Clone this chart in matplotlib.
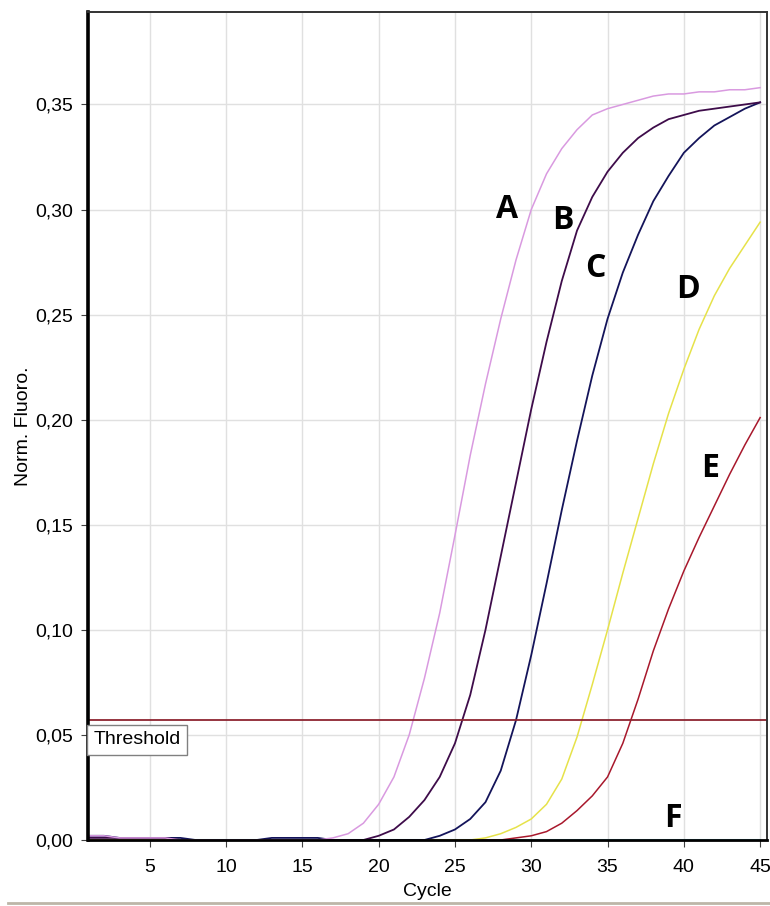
import matplotlib.pyplot as plt
from matplotlib.lines import Line2D

cycles = list(range(1, 46))

# normalized fluorescence per cycle
curve_a = [0.002, 0.002, 0.001, 0.001, 0.001, 0.001, 0.000, 0.000, 0.000, 0.000,
           0.000, 0.000, 0.000, 0.000, 0.000, 0.000, 0.001, 0.003, 0.008, 0.017,
           0.030, 0.050, 0.077, 0.108, 0.145, 0.183, 0.217, 0.248, 0.276, 0.300,
           0.317, 0.329, 0.338, 0.345, 0.348, 0.350, 0.352, 0.354, 0.355, 0.355,
           0.356, 0.356, 0.357, 0.357, 0.358]
curve_b = [0.001, 0.001, 0.001, 0.001, 0.001, 0.001, 0.000, 0.000, 0.000, 0.000,
           0.000, 0.000, 0.000, 0.000, 0.000, 0.000, 0.000, 0.000, 0.000, 0.002,
           0.005, 0.011, 0.019, 0.030, 0.046, 0.069, 0.100, 0.135, 0.170, 0.205,
           0.237, 0.266, 0.290, 0.306, 0.318, 0.327, 0.334, 0.339, 0.343, 0.345,
           0.347, 0.348, 0.349, 0.350, 0.351]
curve_c = [0.002, 0.002, 0.001, 0.001, 0.001, 0.001, 0.001, 0.000, 0.000, 0.000,
           0.000, 0.000, 0.001, 0.001, 0.001, 0.001, 0.000, 0.000, 0.000, 0.000,
           0.000, 0.000, 0.000, 0.002, 0.005, 0.010, 0.018, 0.033, 0.057, 0.088,
           0.122, 0.157, 0.190, 0.221, 0.248, 0.270, 0.288, 0.304, 0.316, 0.327,
           0.334, 0.340, 0.344, 0.348, 0.351]
curve_d = [0.000, 0.000, 0.000, 0.000, 0.000, 0.000, 0.000, 0.000, 0.000, 0.000,
           0.000, 0.000, 0.000, 0.000, 0.000, 0.000, 0.000, 0.000, 0.000, 0.000,
           0.000, 0.000, 0.000, 0.000, 0.000, 0.000, 0.001, 0.003, 0.006, 0.010,
           0.017, 0.029, 0.049, 0.074, 0.100, 0.127, 0.153, 0.179, 0.203, 0.224,
           0.243, 0.259, 0.272, 0.283, 0.294]
curve_e = [0.000, 0.000, 0.000, 0.000, 0.000, 0.000, 0.000, 0.000, 0.000, 0.000,
           0.000, 0.000, 0.000, 0.000, 0.000, 0.000, 0.000, 0.000, 0.000, 0.000,
           0.000, 0.000, 0.000, 0.000, 0.000, 0.000, 0.000, 0.000, 0.001, 0.002,
           0.004, 0.008, 0.014, 0.021, 0.030, 0.046, 0.067, 0.090, 0.110, 0.128,
           0.144, 0.159, 0.174, 0.188, 0.201]
curve_f = [0.000, 0.000, 0.000, 0.000, 0.000, 0.000, 0.000, 0.000, 0.000, 0.000,
           0.000, 0.000, 0.000, 0.000, 0.000, 0.000, 0.000, 0.000, 0.000, 0.000,
           0.000, 0.000, 0.000, 0.000, 0.000, 0.000, 0.000, 0.000, 0.000, 0.000,
           0.000, 0.000, 0.000, 0.000, 0.000, 0.000, 0.000, 0.000, 0.000, 0.000,
           0.000, 0.000, 0.000, 0.000, 0.000]

threshold = 0.057

labels = ['A', 'B', 'C', 'D', 'E', 'F']
label_x = [28.4, 32.1, 34.2, 40.3, 41.7, 39.3]
label_y = [0.300, 0.295, 0.272, 0.262, 0.177, 0.010]

x_ticks = [5, 10, 15, 20, 25, 30, 35, 40, 45]
y_ticks = [0.00, 0.05, 0.10, 0.15, 0.20, 0.25, 0.30, 0.35]
y_ticklabels = ['0,00', '0,05', '0,10', '0,15', '0,20', '0,25', '0,30', '0,35']

plt.rcParams['font.family'] = ['Liberation Sans', 'DejaVu Sans']

fig = plt.figure(figsize=(7.7, 9.06), dpi=100)
ax = fig.add_axes([88 / 770, 66 / 906, 679 / 770, 828 / 906])

ax.set_xlim(0.95, 45.45)
ax.set_ylim(0.0, 0.394)

ax.grid(True, color='#e0e0e0', linewidth=1.0)
ax.set_axisbelow(True)

ax.plot(cycles, curve_f, color='#7fd8ee', linewidth=1.5)
ax.plot(cycles, curve_e, color='#a8182c', linewidth=1.1)
ax.plot(cycles, curve_d, color='#e6e24a', linewidth=1.1)
ax.plot(cycles, curve_c, color='#14145a', linewidth=1.3)
ax.plot(cycles, curve_b, color='#3e0c4a', linewidth=1.3)
ax.plot(cycles, curve_a, color='#d99ae0', linewidth=1.1)

ax.axhline(threshold, color='#8e2430', linewidth=1.3)
ax.text(0.008, threshold - 0.0052, 'Threshold', transform=ax.get_yaxis_transform(),
        ha='left', va='top', fontsize=14,
        bbox=dict(boxstyle='square,pad=0.33', facecolor='white', edgecolor='#808080', linewidth=1))

for lab, lx, ly in zip(labels, label_x, label_y):
    ax.text(lx, ly, lab, ha='center', va='center', fontsize=23,
            fontweight='bold', family='Open Sans', color='black')

ax.set_xticks(x_ticks)
ax.set_yticks(y_ticks)
ax.set_yticklabels(y_ticklabels)
ax.tick_params(axis='both', labelsize=14, length=5, color='#404040')
ax.tick_params(axis='x', pad=9)
ax.tick_params(axis='y', pad=6)

ax.set_xlabel('Cycle', fontsize=14, labelpad=5)
ax.set_ylabel('Norm. Fluoro.', fontsize=14, labelpad=2)

ax.spines['left'].set_linewidth(2.6)
ax.spines['left'].set_color('black')
ax.spines['bottom'].set_linewidth(2.0)
ax.spines['bottom'].set_color('black')
ax.spines['top'].set_linewidth(1.4)
ax.spines['top'].set_color('#333333')
ax.spines['right'].set_linewidth(1.4)
ax.spines['right'].set_color('#333333')

fig.add_artist(Line2D([0.01, 1.0], [0.0035, 0.0035], transform=fig.transFigure,
                      color='#bdb6a8', linewidth=2))

fig.savefig('out.png', dpi=100)
